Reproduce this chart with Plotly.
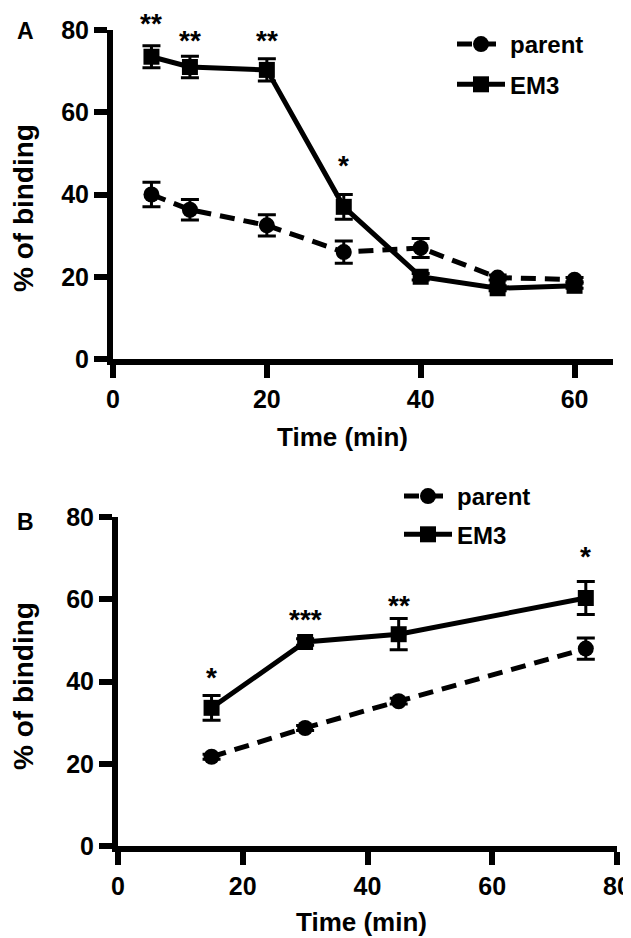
import plotly.graph_objects as go

# ---------------- data ----------------
# Panel A
time_a = [5, 10, 20, 30, 40, 50, 60]
parent_a = [40.0, 36.3, 32.5, 26.0, 27.0, 19.8, 19.3]
parent_a_err = [3.0, 2.5, 2.6, 2.7, 2.3, 0.6, 0.5]
em3_a = [73.5, 71.0, 70.3, 37.0, 20.0, 17.2, 17.8]
em3_a_err = [2.7, 2.6, 2.7, 3.0, 0.8, 0.6, 0.6]
stars_a_x = [5, 10, 20, 30]
stars_a_txt = ["**", "**", "**", "*"]
stars_a_y = [81.5, 77.5, 77.5, 47.0]

# Panel B
time_b = [15, 30, 45, 75]
parent_b = [21.7, 28.7, 35.2, 48.0]
parent_b_err = [0.6, 0.6, 0.7, 2.6]
em3_b = [33.6, 49.6, 51.5, 60.3]
em3_b_err = [3.0, 0.8, 3.8, 4.0]
stars_b_x = [15, 30, 45, 75]
stars_b_txt = ["*", "***", "**", "*"]
stars_b_y = [41.0, 55.0, 58.5, 70.3]

y_ticks = [0, 20, 40, 60, 80]
x_ticks_a = [0, 20, 40, 60]
x_ticks_b = [0, 20, 40, 60, 80]
Y_MAX = 80

PAGE_W, PAGE_H = 631, 938
OFF = 8  # page body margin
W, H = PAGE_W - OFF, PAGE_H - OFF
FONT = "Liberation Sans"
BLACK = "#000000"


def px_x(p):
    return (p - OFF) / W


def px_y(p):
    return 1 - (p - OFF) / H


fig = go.Figure()

marker_sz = 16
lw = 5


def add_series(x, y, err, name, symbol, dash, xa, ya, legend):
    fig.add_trace(go.Scatter(
        x=x, y=y, name=name, mode="lines+markers",
        xaxis=xa, yaxis=ya, legend=legend, legendgroup=name + legend,
        line=dict(color=BLACK, width=lw, dash=dash),
        marker=dict(symbol=symbol, size=marker_sz, color=BLACK),
        error_y=dict(type="data", array=err, visible=True, color=BLACK,
                     thickness=3, width=9),
        cliponaxis=False,
    ))


add_series(time_a, parent_a, parent_a_err, "parent", "circle", "15px,9px", "x", "y", "legend")
add_series(time_a, em3_a, em3_a_err, "EM3", "square", "solid", "x", "y", "legend")
add_series(time_b, parent_b, parent_b_err, "parent", "circle", "15px,9px", "x2", "y2", "legend2")
add_series(time_b, em3_b, em3_b_err, "EM3", "square", "solid", "x2", "y2", "legend2")

axis_common = dict(
    showline=True, linecolor=BLACK, linewidth=6,
    ticks="outside", ticklen=13, tickwidth=6, tickcolor=BLACK,
    showgrid=False, zeroline=False, automargin=False,
    tickfont=dict(family=FONT, size=25, color=BLACK, weight="bold"),
)

leg_font = dict(family=FONT, size=24, color=BLACK, weight="bold")

fig.update_layout(
    width=W, height=H,
    margin=dict(l=0, r=0, t=0, b=0),
    paper_bgcolor="white", plot_bgcolor="white",
    font=dict(family=FONT, color=BLACK, weight="bold"),
    showlegend=True,
    xaxis=dict(domain=[px_x(113), px_x(613)], range=[0, 65],
               tickvals=x_ticks_a, anchor="y", **axis_common),
    yaxis=dict(domain=[px_y(359), px_y(30)], range=[0, Y_MAX],
               tickvals=y_ticks, anchor="x", **axis_common),
    xaxis2=dict(domain=[px_x(118), px_x(617)], range=[0, 80],
                tickvals=x_ticks_b, anchor="y2", **axis_common),
    yaxis2=dict(domain=[px_y(846), px_y(517)], range=[0, Y_MAX],
                tickvals=y_ticks, anchor="x2", **axis_common),
    legend=dict(x=px_x(452), y=px_y(22), xanchor="left", yanchor="top",
                bgcolor="rgba(0,0,0,0)", tracegroupgap=6, itemwidth=48,
                font=leg_font),
    legend2=dict(x=px_x(399), y=px_y(474), xanchor="left", yanchor="top",
                 bgcolor="rgba(0,0,0,0)", tracegroupgap=4, itemwidth=48,
                 font=leg_font),
)

annotations = []
star_font = dict(family=FONT, size=28, color=BLACK, weight="bold")
for xv, yv, t in zip(stars_a_x, stars_a_y, stars_a_txt):
    annotations.append(dict(x=xv, y=yv / Y_MAX, xref="x", yref="y domain", text=t,
                            showarrow=False, font=star_font,
                            xanchor="center", yanchor="middle"))
for xv, yv, t in zip(stars_b_x, stars_b_y, stars_b_txt):
    annotations.append(dict(x=xv, y=yv / Y_MAX, xref="x2", yref="y2 domain", text=t,
                            showarrow=False, font=star_font,
                            xanchor="center", yanchor="middle"))

title_font = dict(family=FONT, size=28, color=BLACK, weight="bold")
x_title_font = dict(family=FONT, size=26, color=BLACK, weight="bold")
panel_font = dict(family=FONT, size=23, color=BLACK, weight="bold")


def ann(xp, yp, text, font, angle=0):
    return dict(x=px_x(xp), y=px_y(yp), xref="paper", yref="paper", text=text,
                textangle=angle, showarrow=False, font=font,
                xanchor="center", yanchor="middle")


annotations += [
    ann(23, 208, "% of binding", title_font, -90),
    ann(23, 686, "% of binding", title_font, -90),
    ann(342, 437, "Time (min)", x_title_font),
    ann(361, 922, "Time (min)", x_title_font),
    ann(25, 31, "A", panel_font),
    ann(25, 522, "B", panel_font),
]
fig.update_layout(annotations=annotations)

fig.write_html("out.html")
